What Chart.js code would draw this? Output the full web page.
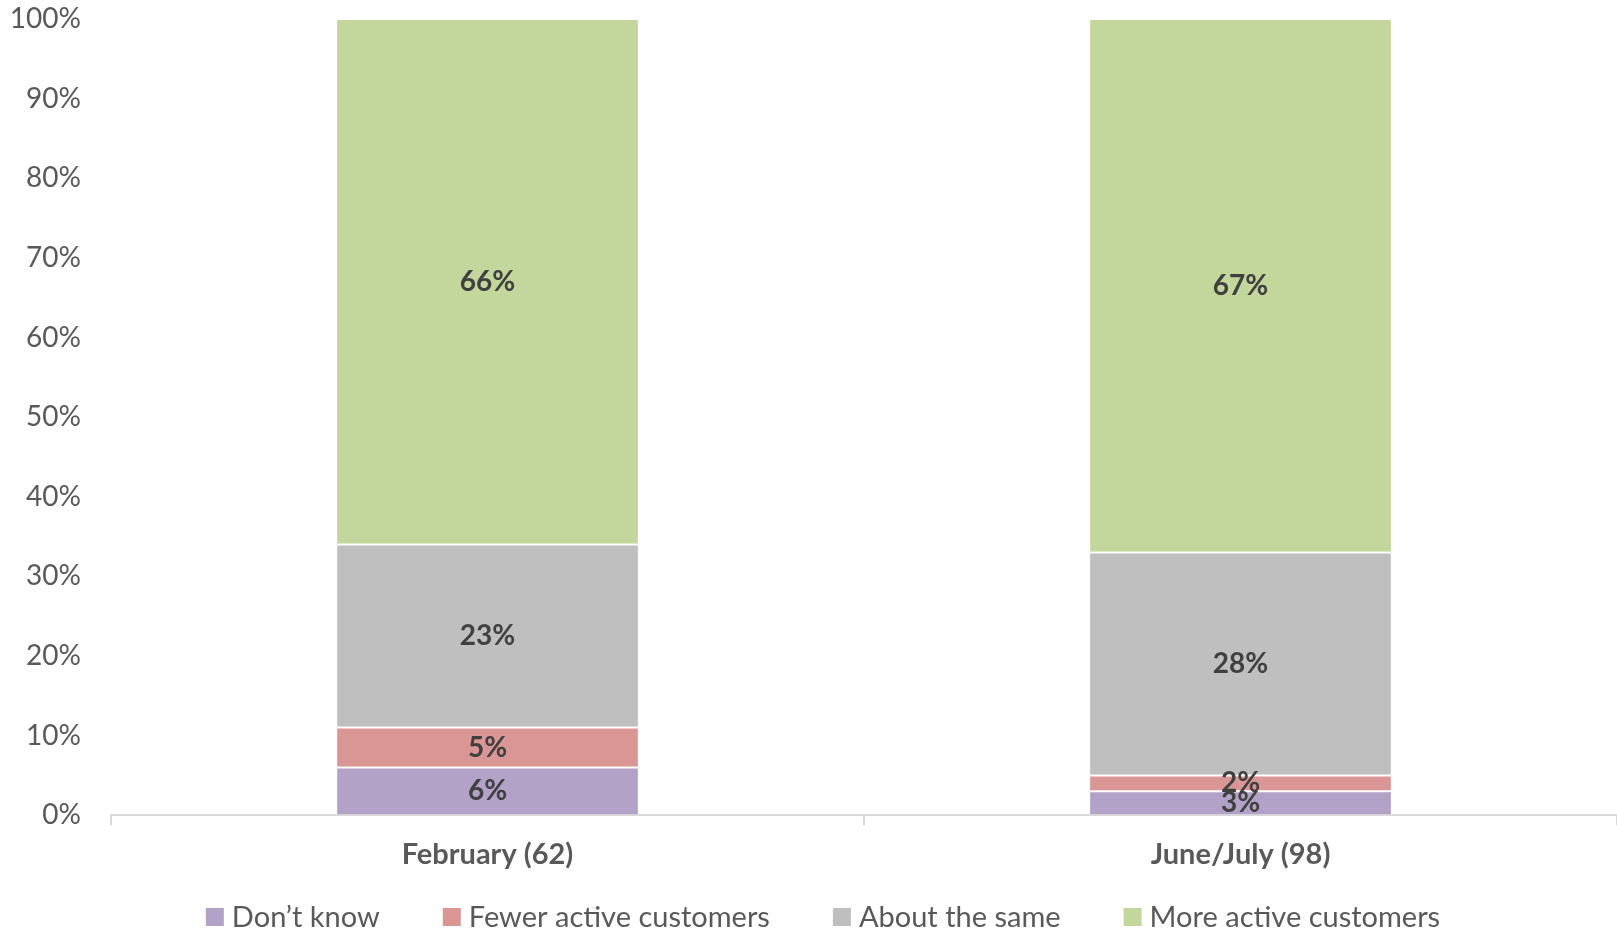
<!DOCTYPE html>
<html>
<head>
<meta charset="utf-8">
<script src="https://cdn.jsdelivr.net/npm/chart.js@4/dist/chart.umd.min.js"></script>
<style>
  html, body { margin: 0; padding: 0; background: #ffffff; }
  #wrap { width: 1617px; height: 933px; }
</style>
</head>
<body>
<div id="wrap"><canvas id="chart" width="1617" height="933"></canvas></div>
<script>
// Survey waves (sample size in brackets)
const categories = ['February (62)', 'June/July (98)'];

// Share of respondents per answer, in percent
const dontKnow = [6, 3];
const fewerActive = [5, 2];
const aboutSame = [23, 28];
const moreActive = [66, 67];

const seriesNames = ['Don\u2019t know', 'Fewer active customers', 'About the same', 'More active customers'];
const seriesColors = ['#B3A2C7', '#D99694', '#BFBFBF', '#C3D69B'];

const yTicks = [0, 10, 20, 30, 40, 50, 60, 70, 80, 90, 100];

const FONT = 'Lato, "Open Sans", sans-serif';

// Writes each segment's value in the middle of its bar slice
const segmentLabels = {
  id: 'segmentLabels',
  afterDatasetsDraw(chart) {
    const ctx = chart.ctx;
    ctx.save();
    ctx.font = 'bold 28px ' + FONT;
    ctx.fillStyle = '#404040';
    ctx.textAlign = 'center';
    ctx.textBaseline = 'middle';
    chart.data.datasets.forEach((ds, di) => {
      const meta = chart.getDatasetMeta(di);
      if (meta.hidden) return;
      meta.data.forEach((bar, i) => {
        const p = bar.getProps(['x', 'y', 'base'], true);
        ctx.fillText(ds.data[i] + '%', p.x, (p.y + p.base) / 2);
      });
    });
    ctx.restore();
  }
};

// Single-row legend under the axis labels
const bottomLegend = {
  id: 'bottomLegend',
  afterDraw(chart) {
    const ctx = chart.ctx;
    const box = 18, textGap = 8, itemGap = 63, centerX = 823, centerY = 917;
    ctx.save();
    ctx.font = '29px ' + FONT;
    ctx.textBaseline = 'middle';
    ctx.textAlign = 'left';
    const widths = seriesNames.map(n => ctx.measureText(n).width);
    const total = widths.reduce((s, w) => s + box + textGap + w, 0) + itemGap * (seriesNames.length - 1);
    let x = centerX - total / 2;
    seriesNames.forEach((name, k) => {
      ctx.fillStyle = seriesColors[k];
      ctx.fillRect(x, centerY - box / 2, box, box);
      ctx.fillStyle = '#595959';
      ctx.fillText(name, x + box + textGap, centerY + 1);
      x += box + textGap + widths[k] + itemGap;
    });
    ctx.restore();
  }
};

const values = [dontKnow, fewerActive, aboutSame, moreActive];

new Chart(document.getElementById('chart'), {
  type: 'bar',
  data: {
    labels: categories,
    datasets: seriesNames.map((name, k) => ({
      label: name,
      data: values[k],
      backgroundColor: seriesColors[k],
      borderColor: 'rgba(255,255,255,0.25)',
      borderWidth: 1,
      borderSkipped: false,
      barPercentage: 0.402,
      categoryPercentage: 1.0
    }))
  },
  options: {
    responsive: false,
    animation: false,
    layout: { padding: { top: 19, right: -3, bottom: 49, left: 0 } },
    plugins: {
      tooltip: { enabled: false },
      legend: { display: false }
    },
    scales: {
      x: {
        stacked: true,
        border: { display: true, color: '#D9D9D9', width: 2 },
        grid: { display: true, drawOnChartArea: false, drawTicks: true, tickLength: 10, color: '#D9D9D9', lineWidth: 2, offset: true },
        ticks: {
          font: { family: FONT, size: 29, weight: 'bold' },
          color: '#595959',
          padding: 12
        }
      },
      y: {
        stacked: true,
        min: 0,
        max: 100,
        afterBuildTicks(axis) { axis.ticks = yTicks.map(v => ({ value: v })); },
        afterFit(axis) { axis.width = 111; },
        border: { display: false },
        // tick marks hidden; their length only sets the label offset
        grid: { display: false, drawTicks: true, tickLength: 30 },
        ticks: {
          font: { family: FONT, size: 28 },
          color: '#595959',
          padding: 0,
          callback: v => v + '%'
        }
      }
    }
  },
  plugins: [segmentLabels, bottomLegend]
});
</script>
</body>
</html>
